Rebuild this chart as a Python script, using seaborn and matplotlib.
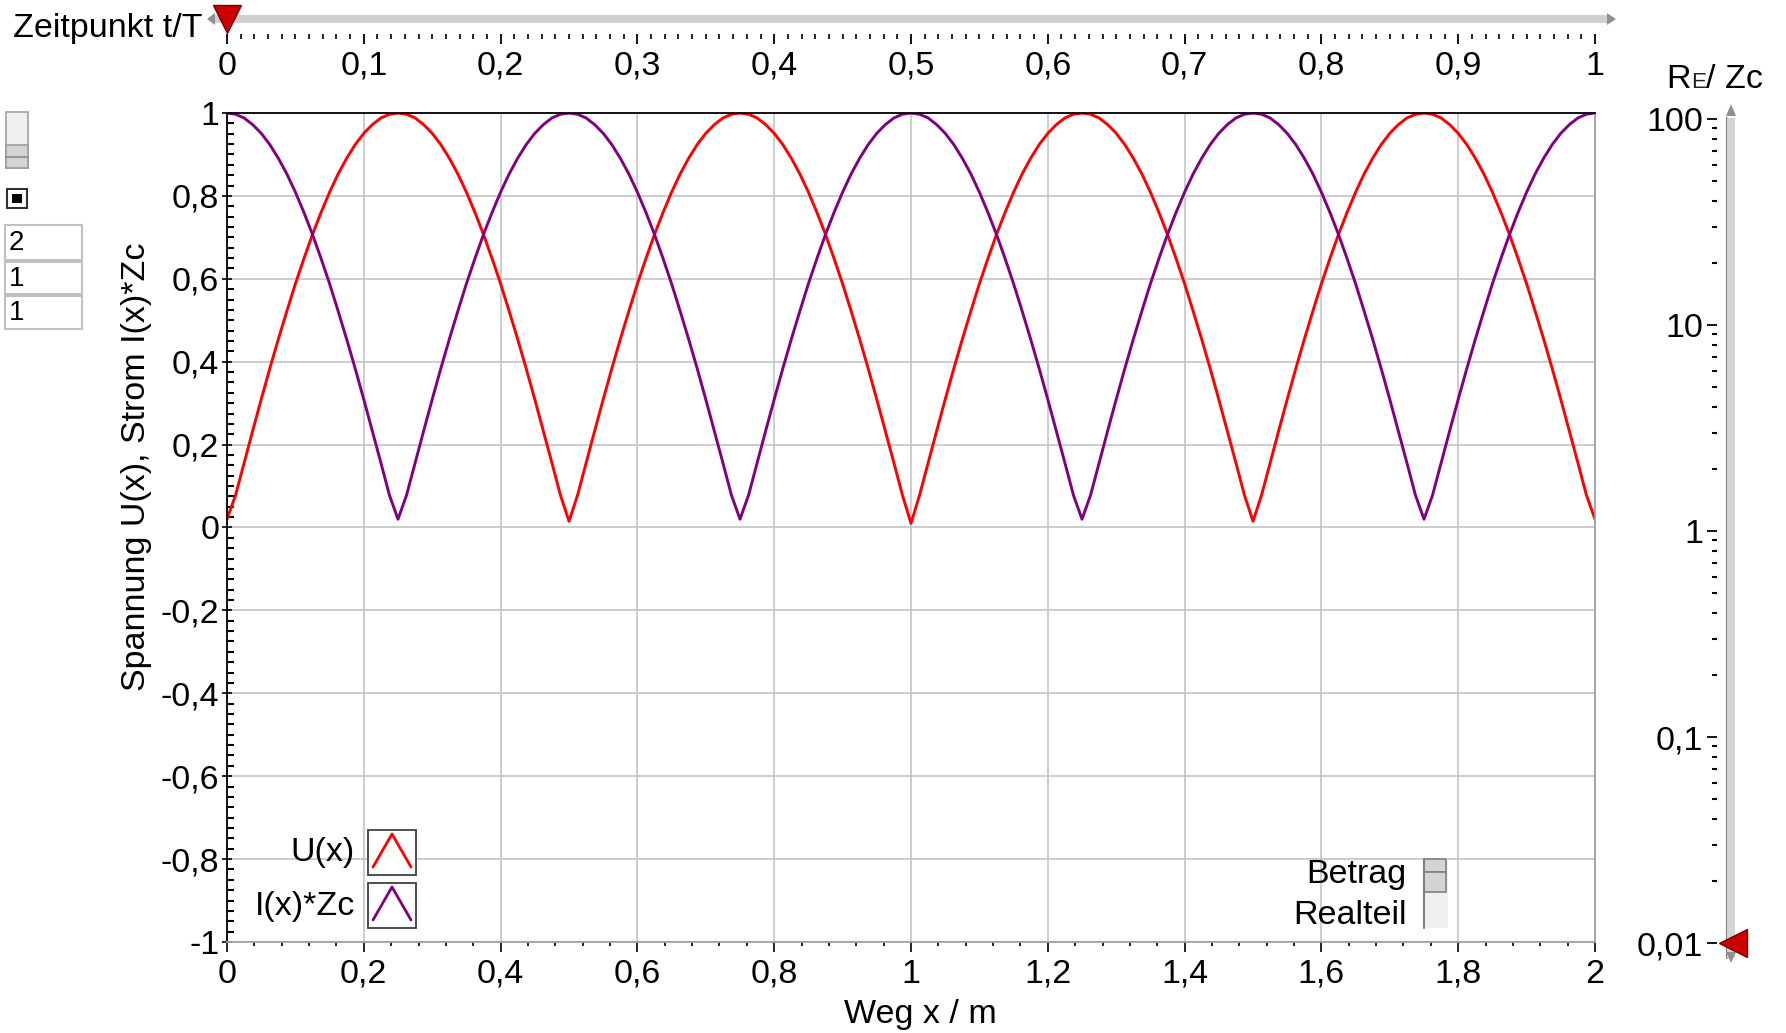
import numpy as np
import pandas as pd
import matplotlib
matplotlib.use("Agg")
import matplotlib.pyplot as plt
import seaborn as sns
from matplotlib.ticker import MultipleLocator, FuncFormatter, LogLocator, NullFormatter
from matplotlib.transforms import blended_transform_factory
from matplotlib.patches import Rectangle, Polygon
from matplotlib.lines import Line2D

# ---------------- data ----------------
U_x = [0.02, 0.078, 0.156, 0.233, 0.309, 0.383, 0.454, 0.522, 0.588, 0.649, 0.707, 0.760, 0.809, 0.853, 0.891, 0.924, 0.951, 0.972, 0.988, 0.997,
       1.000, 0.997, 0.988, 0.972, 0.951, 0.924, 0.891, 0.853, 0.809, 0.760, 0.707, 0.649, 0.588, 0.522, 0.454, 0.383, 0.309, 0.233, 0.156, 0.078,
       0.015, 0.078, 0.156, 0.233, 0.309, 0.383, 0.454, 0.522, 0.588, 0.649, 0.707, 0.760, 0.809, 0.853, 0.891, 0.924, 0.951, 0.972, 0.988, 0.997,
       1.000, 0.997, 0.988, 0.972, 0.951, 0.924, 0.891, 0.853, 0.809, 0.760, 0.707, 0.649, 0.588, 0.522, 0.454, 0.383, 0.309, 0.233, 0.156, 0.078,
       0.01, 0.078, 0.156, 0.233, 0.309, 0.383, 0.454, 0.522, 0.588, 0.649, 0.707, 0.760, 0.809, 0.853, 0.891, 0.924, 0.951, 0.972, 0.988, 0.997,
       1.000, 0.997, 0.988, 0.972, 0.951, 0.924, 0.891, 0.853, 0.809, 0.760, 0.707, 0.649, 0.588, 0.522, 0.454, 0.383, 0.309, 0.233, 0.156, 0.078,
       0.015, 0.078, 0.156, 0.233, 0.309, 0.383, 0.454, 0.522, 0.588, 0.649, 0.707, 0.760, 0.809, 0.853, 0.891, 0.924, 0.951, 0.972, 0.988, 0.997,
       1.000, 0.997, 0.988, 0.972, 0.951, 0.924, 0.891, 0.853, 0.809, 0.760, 0.707, 0.649, 0.588, 0.522, 0.454, 0.383, 0.309, 0.233, 0.156, 0.078,
       0.02]
I_x = [1.000, 0.997, 0.988, 0.972, 0.951, 0.924, 0.891, 0.853, 0.809, 0.760, 0.707, 0.649, 0.588, 0.522, 0.454, 0.383, 0.309, 0.233, 0.156, 0.078,
       0.02, 0.078, 0.156, 0.233, 0.309, 0.383, 0.454, 0.522, 0.588, 0.649, 0.707, 0.760, 0.809, 0.853, 0.891, 0.924, 0.951, 0.972, 0.988, 0.997,
       1.000, 0.997, 0.988, 0.972, 0.951, 0.924, 0.891, 0.853, 0.809, 0.760, 0.707, 0.649, 0.588, 0.522, 0.454, 0.383, 0.309, 0.233, 0.156, 0.078,
       0.02, 0.078, 0.156, 0.233, 0.309, 0.383, 0.454, 0.522, 0.588, 0.649, 0.707, 0.760, 0.809, 0.853, 0.891, 0.924, 0.951, 0.972, 0.988, 0.997,
       1.000, 0.997, 0.988, 0.972, 0.951, 0.924, 0.891, 0.853, 0.809, 0.760, 0.707, 0.649, 0.588, 0.522, 0.454, 0.383, 0.309, 0.233, 0.156, 0.078,
       0.02, 0.078, 0.156, 0.233, 0.309, 0.383, 0.454, 0.522, 0.588, 0.649, 0.707, 0.760, 0.809, 0.853, 0.891, 0.924, 0.951, 0.972, 0.988, 0.997,
       1.000, 0.997, 0.988, 0.972, 0.951, 0.924, 0.891, 0.853, 0.809, 0.760, 0.707, 0.649, 0.588, 0.522, 0.454, 0.383, 0.309, 0.233, 0.156, 0.078,
       0.02, 0.078, 0.156, 0.233, 0.309, 0.383, 0.454, 0.522, 0.588, 0.649, 0.707, 0.760, 0.809, 0.853, 0.891, 0.924, 0.951, 0.972, 0.988, 0.997,
       1.000]
x_weg = np.linspace(0.0, 2.0, len(U_x))
series_names = ["U(x)", "I(x)*Zc"]
series_colors = ["#ff0000", "#800080"]
t_value = 0.0        # Zeitpunkt t/T slider
re_zc_value = 0.01   # RE/Zc slider
input_values = ["2", "1", "1"]

W, H = 1786, 1033
FS = 24.5

def fx(x):
    return x / W

def fy(y):
    return 1 - y / H

def comma(v, pos=None):
    v = round(v, 4) + 0.0
    return f"{v:g}".replace(".", ",")

sns.set_theme(style="white")
plt.rcParams["font.family"] = ["Liberation Sans", "DejaVu Sans"]

fig = plt.figure(figsize=(W / 100, H / 100), dpi=100)
fig.patch.set_facecolor("white")

L, R, T, B = 227, 1595, 113, 942
ax = fig.add_axes([fx(L), fy(B), (R - L) / W, (B - T) / H])

df = pd.DataFrame({"x": np.concatenate([x_weg, x_weg]),
                   "y": np.concatenate([U_x, I_x]),
                   "s": [series_names[0]] * len(U_x) + [series_names[1]] * len(I_x)})
sns.lineplot(data=df, x="x", y="y", hue="s", palette=series_colors, ax=ax,
             linewidth=2.1, legend=False, estimator=None, sort=False)

ax.set_xlim(0, 2)
ax.set_ylim(-1, 1)
ax.set_xlabel("")
ax.set_ylabel("")
ax.xaxis.set_major_locator(MultipleLocator(0.2))
ax.xaxis.set_minor_locator(MultipleLocator(0.04))
ax.yaxis.set_major_locator(MultipleLocator(0.2))
ax.yaxis.set_minor_locator(MultipleLocator(0.025))
ax.xaxis.set_major_formatter(FuncFormatter(comma))
ax.yaxis.set_major_formatter(FuncFormatter(comma))
ax.grid(True, which="major", color="#c0c0c0", linewidth=1.1)
ax.set_axisbelow(True)
ax.tick_params(axis="x", which="major", direction="out", length=7, width=1.2, color="black",
               labelsize=FS, pad=5, bottom=True)
ax.tick_params(axis="x", which="minor", direction="out", length=3, width=1.2, color="black", bottom=True)
ax.tick_params(axis="y", which="major", direction="inout", length=7, width=1.2, color="black",
               labelsize=FS, pad=2, left=True)
ax.tick_params(axis="y", which="minor", direction="in", length=5, width=1.5, color="black", left=True)
ax.tick_params(labelcolor="black")
for side, col in (("left", "black"), ("top", "black"), ("right", "#a0a0a0"), ("bottom", "#a0a0a0")):
    ax.spines[side].set_visible(True)
    ax.spines[side].set_color(col)
    ax.spines[side].set_linewidth(1.3)

fig.text(fx(920), fy(1014), "Weg x / m", ha="center", va="center", fontsize=FS, color="black")
fig.text(fx(137), fy(467), "Spannung U(x), Strom I(x)*Zc", ha="center", va="center",
         rotation=90, fontsize=FS, color="black")

# ---------------- legend boxes ----------------
for i, (name, col) in enumerate(zip(series_names, series_colors)):
    y0 = 830 + i * 53
    fig.patches.append(Rectangle((fx(368), fy(y0 + 45)), 48 / W, 45 / H, transform=fig.transFigure,
                                 facecolor="white", edgecolor="#404040", linewidth=1.3))
    fig.lines.append(Line2D([fx(373), fx(392), fx(411)], [fy(y0 + 37), fy(y0 + 4), fy(y0 + 37)],
                            transform=fig.transFigure, color=col, linewidth=2.0))
    fig.text(fx(355), fy(y0 + 23), name, ha="right", va="center", fontsize=FS, color="black")

# ---------------- Betrag / Realteil ----------------
fig.text(fx(1406), fy(875), "Betrag", ha="right", va="center", fontsize=FS, color="black")
fig.text(fx(1407), fy(915), "Realteil", ha="right", va="center", fontsize=FS, color="black")
fig.patches.append(Rectangle((fx(1424), fy(928)), 24 / W, 69 / H, transform=fig.transFigure,
                             facecolor="#efefef", edgecolor="none"))
fig.patches.append(Rectangle((fx(1424), fy(872)), 22 / W, 13 / H, transform=fig.transFigure,
                             facecolor="#d4d4d4", edgecolor="#808080", linewidth=1.2))
fig.patches.append(Rectangle((fx(1424), fy(892)), 22 / W, 20 / H, transform=fig.transFigure,
                             facecolor="#d4d4d4", edgecolor="#808080", linewidth=1.2))
fig.lines.append(Line2D([fx(1424), fx(1424)], [fy(859), fy(928)], transform=fig.transFigure,
                        color="#808080", linewidth=1.5))

# ---------------- top slider: Zeitpunkt t/T ----------------
ax_t = fig.add_axes([fx(L), fy(34), (R - L) / W, 0.0001])
ax_t.set_xlim(0, 1)
ax_t.set_yticks([])
for s in ax_t.spines.values():
    s.set_visible(False)
ax_t.patch.set_alpha(0)
ax_t.set_zorder(3)
ax_t.xaxis.set_major_locator(MultipleLocator(0.1))
ax_t.xaxis.set_minor_locator(MultipleLocator(0.01))
ax_t.xaxis.set_major_formatter(FuncFormatter(comma))
ax_t.tick_params(axis="x", which="major", direction="out", length=7.2, width=1.3, color="black",
                 labelsize=FS, pad=5, bottom=True, labelcolor="black")
ax_t.tick_params(axis="x", which="minor", direction="out", length=3.6, width=1.2, color="black", bottom=True)
fig.patches.append(Rectangle((fx(215), fy(23)), (1607 - 215) / W, 8 / H, transform=fig.transFigure,
                             facecolor="#d0d0d0", edgecolor="none", zorder=-1))
fig.lines.append(Line2D([fx(215), fx(1607)], [fy(15.5), fy(15.5)], transform=fig.transFigure,
                        color="#8a8a8a", linewidth=1.2, zorder=-1))
fig.patches.append(Polygon([(fx(1607), fy(13)), (fx(1616), fy(19)), (fx(1607), fy(25))], closed=True,
                           transform=fig.transFigure, facecolor="#909090", edgecolor="none", zorder=-1))
fig.patches.append(Polygon([(fx(215), fy(13)), (fx(207), fy(19)), (fx(215), fy(25))], closed=True,
                           transform=fig.transFigure, facecolor="#909090", edgecolor="none", zorder=-1))
tr_t = blended_transform_factory(ax_t.transData, fig.transFigure)
ax_t.plot([t_value], [fy(19)], marker="v", markersize=20, color="#cc0000", markeredgecolor="#7a0000",
          markeredgewidth=1.0, transform=tr_t, clip_on=False)
fig.text(fx(13), fy(29), "Zeitpunkt t/T", ha="left", va="center", fontsize=FS, color="black")

# ---------------- right slider: RE / Zc ----------------
RT, RB = 119, 943
ax_r = fig.add_axes([fx(1717), fy(RB), 0.0001, (RB - RT) / H])
ax_r.set_yscale("log")
ax_r.set_ylim(0.01, 100)
ax_r.set_xticks([])
for s in ax_r.spines.values():
    s.set_visible(False)
ax_r.patch.set_alpha(0)
ax_r.set_zorder(3)
ax_r.yaxis.set_major_locator(LogLocator(base=10, numticks=10))
ax_r.yaxis.set_minor_locator(LogLocator(base=10, subs=np.arange(2, 10), numticks=20))
ax_r.yaxis.set_major_formatter(FuncFormatter(comma))
ax_r.yaxis.set_minor_formatter(NullFormatter())
ax_r.tick_params(axis="y", which="major", direction="out", length=7, width=1.3, color="black",
                 labelsize=FS, pad=3, left=True, labelcolor="black")
ax_r.tick_params(axis="y", which="minor", direction="out", length=3.5, width=1.5, color="black", left=True)
fig.patches.append(Rectangle((fx(1727), fy(958)), 8 / W, (958 - 118) / H, transform=fig.transFigure,
                             facecolor="#d4d4d4", edgecolor="none", zorder=-1))
fig.lines.append(Line2D([fx(1727), fx(1727)], [fy(118), fy(958)], transform=fig.transFigure,
                        color="#808080", linewidth=1.5, zorder=-1))
fig.patches.append(Polygon([(fx(1726), fy(116)), (fx(1731), fy(104)), (fx(1736), fy(116))], closed=True,
                           transform=fig.transFigure, facecolor="#909090", edgecolor="none", zorder=-1))
fig.patches.append(Polygon([(fx(1726), fy(952)), (fx(1731), fy(963)), (fx(1736), fy(952))], closed=True,
                           transform=fig.transFigure, facecolor="#909090", edgecolor="none", zorder=-1))
tr_r = blended_transform_factory(fig.transFigure, ax_r.transData)
ax_r.plot([fx(1733)], [re_zc_value], marker="<", markersize=20, color="#cc0000", markeredgecolor="#7a0000",
          markeredgewidth=1.0, transform=tr_r, clip_on=False)
fig.text(fx(1666), fy(88), "R", ha="left", va="baseline", fontsize=FS, color="black")
fig.text(fx(1691), fy(88), "E", ha="left", va="baseline", fontsize=16, color="#222222")
fig.text(fx(1706), fy(88), "/ Zc", ha="left", va="baseline", fontsize=FS, color="black")

# ---------------- left control widgets ----------------
fig.patches.append(Rectangle((fx(6), fy(168)), 22 / W, 56 / H, transform=fig.transFigure,
                             facecolor="#f0f0f0", edgecolor="#a8a8a8", linewidth=1.3))
fig.patches.append(Rectangle((fx(6), fy(168)), 22 / W, 23 / H, transform=fig.transFigure,
                             facecolor="#d4d4d4", edgecolor="#a0a0a0", linewidth=1.3))
fig.lines.append(Line2D([fx(6), fx(28)], [fy(157), fy(157)], transform=fig.transFigure,
                        color="#909090", linewidth=1.3))
fig.patches.append(Rectangle((fx(7), fy(208)), 20 / W, 19 / H, transform=fig.transFigure,
                             facecolor="white", edgecolor="#303030", linewidth=1.5))
fig.patches.append(Rectangle((fx(12), fy(203)), 10 / W, 9 / H, transform=fig.transFigure,
                             facecolor="black", edgecolor="none"))
for (yt, yb), val in zip([(225, 260), (262, 294), (296, 329)], input_values):
    fig.patches.append(Rectangle((fx(5), fy(yb)), 77 / W, (yb - yt) / H, transform=fig.transFigure,
                                 facecolor="white", edgecolor="#c0c0c0", linewidth=1.5))
    fig.text(fx(9), fy((yt + yb) / 2 + 1), val, ha="left", va="center", fontsize=20, color="black")

fig.savefig("out.png", dpi=100, facecolor="white")
